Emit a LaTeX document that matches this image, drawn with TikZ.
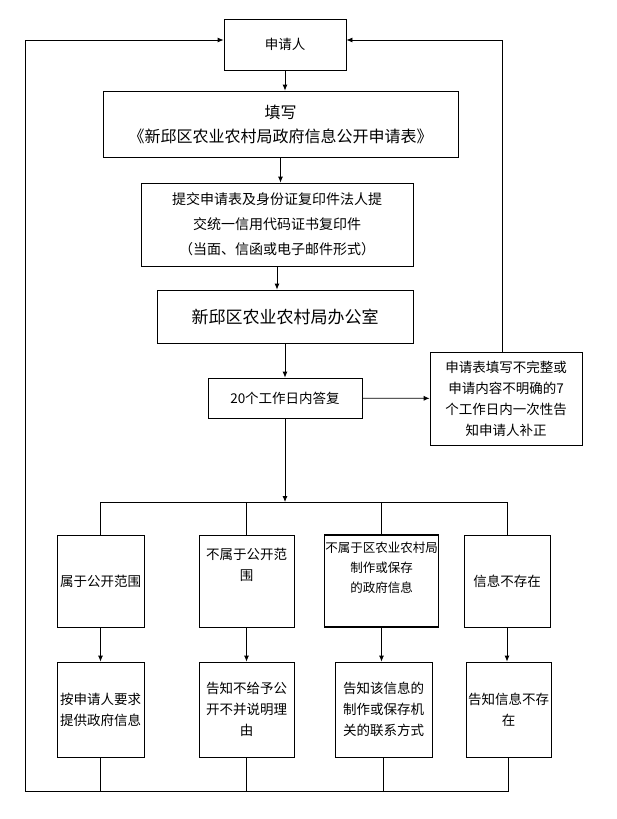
\documentclass[tikz,border=0pt]{standalone}
\usepackage{fontspec}
\setmainfont{Noto Sans CJK SC}
\usetikzlibrary{arrows.meta}
\tikzset{box/.style={draw,thick,align=center,inner sep=2pt,font=\fontsize{13.5}{21}\selectfont},
  flow/.style={thick,-{Latex[length=6pt,width=5pt]}}}
\begin{document}
\begin{tikzpicture}[x=1pt,y=-1pt]
\useasboundingbox (0,0) rectangle (616,819);
% main column
\node[box,minimum width=122,minimum height=51] (applicant) at (285,44.5) {申请人};
\node[box,minimum width=355,minimum height=66,font=\fontsize{16}{24}\selectfont] (form) at (280.5,124) {填写\\《新邱区农业农村局政府信息公开申请表》};
\node[box,minimum width=272,minimum height=83,font=\fontsize{14}{25}\selectfont] (submit) at (277,224.5) {提交申请表及身份证复印件法人提\\交统一信用代码证书复印件\\（当面、信函或电子邮件形式）};
\node[box,minimum width=256,minimum height=53,font=\fontsize{17}{22}\selectfont] (office) at (285,316.5) {新邱区农业农村局办公室};
\node[box,minimum width=154,minimum height=40] (reply) at (285,398) {20个工作日内答复};
\node[box,minimum width=152,minimum height=93,font=\fontsize{13.5}{21}\selectfont] (supplement) at (506,398.5) {申请表填写不完整或\\申请内容不明确的7\\个工作日内一次性告\\知申请人补正};
% branches
\node[box,minimum width=87,minimum height=92] (open) at (100.5,581) {属于公开范围};
\node[box,minimum width=95,minimum height=92] (notopen) at (246.5,581) {不属于公开范\\围\\[12pt]};
\node[box,minimum width=105,minimum height=92,very thick,inner sep=1pt,font=\fontsize{12.5}{20}\selectfont] (notours) at (381.5,581) {不属于区农业农村局\\制作或保存\\的政府信息\\[8pt]};
\node[box,minimum width=86,minimum height=92] (none) at (507,581) {信息不存在};
\node[box,minimum width=87,minimum height=95] (provide) at (100.5,709.5) {按申请人要求\\提供政府信息};
\node[box,minimum width=95,minimum height=95] (refuse) at (246.5,709.5) {告知不给予公\\开不并说明理\\由};
\node[box,minimum width=97,minimum height=95] (contact) at (383.5,709.5) {告知该信息的\\制作或保存机\\关的联系方式};
\node[box,minimum width=85,minimum height=95] (tellnone) at (508.5,709.5) {告知信息不存\\在};
% connectors
\draw[flow] (applicant) -- (applicant |- form.north);
\draw[flow] (form) -- (form |- submit.north);
\draw[flow] (submit) -- (submit |- office.north);
\draw[flow] (office) -- (reply);
\draw[flow] (reply) -- (supplement);
\coordinate (split) at (285,502);
\draw[flow] (reply) -- (split);
\draw[thick] (open.north |- split) -- (none.north |- split);
\foreach \top/\bot in {open/provide,notopen/refuse,notours/contact,none/tellnone}{
  \draw[thick] (\top.north |- split) -- (\top.north);
  \draw[flow] (\top) -- (\top |- \bot.north);
}
\coordinate (leftback) at (25,791);
\draw[thick] (leftback) -- (tellnone.south |- leftback);
\foreach \bot in {provide,refuse,contact,tellnone}
  \draw[thick] (\bot.south) -- (\bot.south |- leftback);
\draw[flow] (leftback) -- (25,40) -- (applicant.west |- 0,40);
\draw[flow] (supplement.north -| 502,0) -- (502,40) -- (applicant.east |- 0,40);
\end{tikzpicture}
\end{document}
